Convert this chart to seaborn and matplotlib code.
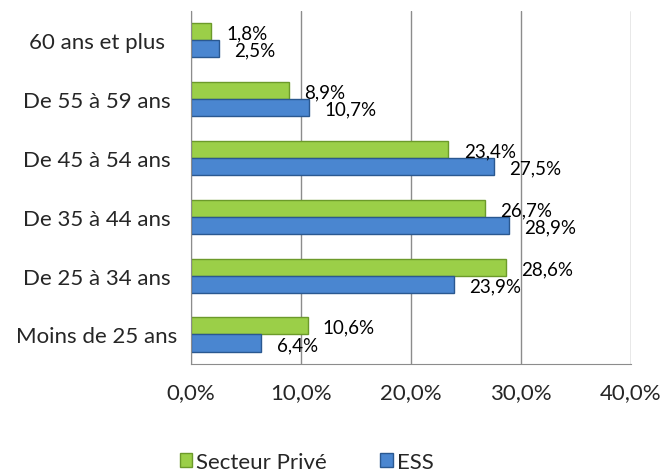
import pandas as pd
import seaborn as sns
import matplotlib.pyplot as plt
from matplotlib.ticker import FuncFormatter, FixedLocator
from matplotlib.patches import Patch

tranches = ["60 ans et plus", "De 55 à 59 ans", "De 45 à 54 ans",
            "De 35 à 44 ans", "De 25 à 34 ans", "Moins de 25 ans"]
prive = [1.8, 8.9, 23.4, 26.7, 28.6, 10.6]
ess = [2.5, 10.7, 27.5, 28.9, 23.9, 6.4]
series = ["Secteur Privé", "ESS"]

df = pd.DataFrame({
    "Tranche": tranches * 2,
    "Part": prive + ess,
    "Serie": [series[0]] * len(tranches) + [series[1]] * len(tranches),
})

sns.set_style("white")
plt.rcParams["font.family"] = ["Lato", "DejaVu Sans"]

colors = {"Secteur Privé": "#9BCF48", "ESS": "#4A86D0"}
edges = {"Secteur Privé": "#6C9A2A", "ESS": "#2A5890"}

fig = plt.figure(figsize=(6.64, 4.77), dpi=100)
ax = fig.add_axes([0.2877, 0.235, 0.6627, 0.74])

sns.barplot(data=df, y="Tranche", x="Part", hue="Serie", hue_order=series,
            order=tranches, palette=colors, width=0.58, gap=0, saturation=1,
            orient="h", ax=ax, legend=False)

# contour plus sombre + etiquettes de valeurs
for cont, name in zip(ax.containers, series):
    vals = prive if name == series[0] else ess
    for bar, v in zip(cont, vals):
        bar.set_edgecolor(edges[name])
        bar.set_linewidth(1.0)
        ax.annotate(f"{v:.1f}%".replace(".", ","),
                    (bar.get_width(), bar.get_y() + bar.get_height() / 2),
                    xytext=(11, -1), textcoords="offset points",
                    ha="left", va="center", fontsize=13.5, color="black")

ax.set_xlim(0, 40)
ax.set_ylim(5.5, -0.5)
ax.xaxis.set_major_locator(FixedLocator([0, 10, 20, 30, 40]))
ax.xaxis.set_major_formatter(FuncFormatter(lambda v, p: f"{v:.1f}%".replace(".", ",")))
ax.grid(axis="x", color="#8C8C8C", linewidth=1.0)
ax.set_axisbelow(True)
ax.set_xlabel("")
ax.set_ylabel("")

for s in ["top", "right"]:
    ax.spines[s].set_visible(False)
ax.spines["left"].set_color("#8C8C8C")
ax.spines["bottom"].set_color("#8C8C8C")
ax.tick_params(axis="x", length=5, color="#8C8C8C", labelsize=16, pad=8, direction="out")
# etiquettes de categories centrees (comme Excel)
ax.tick_params(axis="y", length=0, labelsize=16, pad=68)
for lab in ax.get_yticklabels():
    lab.set_horizontalalignment("center")
ax.set_yticks([i - 0.5 for i in range(len(tranches) + 1)], minor=True)
ax.tick_params(axis="y", which="minor", length=5, color="#8C8C8C")

handles = [Patch(facecolor=colors[s], edgecolor=edges[s], label=s) for s in series]
fig.legend(handles=handles, loc="center", bbox_to_anchor=(0.462, 0.03), ncol=2,
           frameon=False, fontsize=16, handlelength=0.55, handleheight=0.55,
           handletextpad=0.2, columnspacing=2.4)

plt.savefig("out.png", dpi=100)
